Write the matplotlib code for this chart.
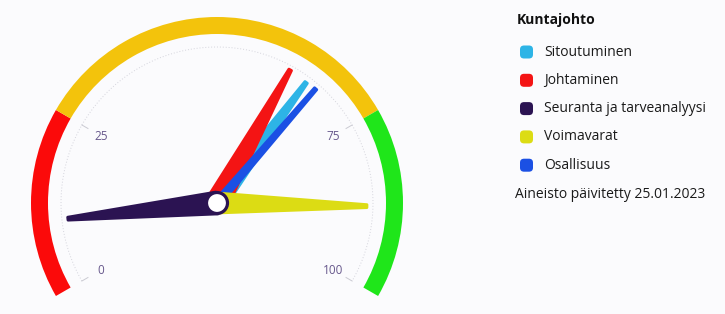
import numpy as np
import matplotlib.pyplot as plt
from matplotlib.patches import Wedge, Polygon, Circle, FancyBboxPatch

# gauge data
series = ["Sitoutuminen", "Johtaminen", "Seuranta ja tarveanalyysi", "Voimavarat", "Osallisuus"]
values = [65.2, 62, 10, 88, 67]
colors = ["#2db4e6", "#f41414", "#2b1352", "#dcdc14", "#1b50e4"]
band_edges = [0, 25, 75, 100]
band_colors = ["#fb0a0a", "#f3c30c", "#1fe61a"]
tick_values = [0, 25, 75, 100]
title = "Kuntajohto"
footnote = "Aineisto päivitetty 25.01.2023"

plt.rcParams['font.family'] = ['Open Sans', 'DejaVu Sans']

W, H = 725, 314
fig = plt.figure(figsize=(W / 100, H / 100), dpi=100)
fig.patch.set_facecolor("#fbfbfd")
ax = fig.add_axes([0, 0, 1, 1])
ax.set_xlim(0, W)
ax.set_ylim(0, H)
ax.axis("off")

cx, cy = 217, H - 203
start, span = 210.0, 240.0


def angle(v):
    return start - span * v / 100.0


def polar(r, v):
    a = np.radians(angle(v))
    return cx + r * np.cos(a), cy + r * np.sin(a)


# colour bands
for lo, hi, c in zip(band_edges[:-1], band_edges[1:], band_colors):
    ax.add_patch(Wedge((cx, cy), 186, angle(hi), angle(lo), width=17, facecolor=c, edgecolor="none"))

# thin scale circle, ticks and labels
vv = np.linspace(0, 100, 200)
px, py = polar(156, vv)
ax.plot(px, py, color="#d4d4dc", lw=0.7, ls=(0, (1, 2)))
for t in tick_values:
    x1, y1 = polar(149, t)
    x2, y2 = polar(156, t)
    ax.plot([x1, x2], [y1, y2], color="#cacad2", lw=0.7)
    lx, ly = polar(134, t)
    ax.text(lx, ly, str(t), ha="center", va="center", fontsize=8.5, color="#67588c")

# needles
half_w = {"Sitoutuminen": 9, "Johtaminen": 11, "Seuranta ja tarveanalyysi": 11,
          "Voimavarat": 10, "Osallisuus": 3.5}
length = {"Sitoutuminen": 150, "Johtaminen": 152, "Seuranta ja tarveanalyysi": 150,
          "Voimavarat": 150, "Osallisuus": 151}
order = ["Sitoutuminen", "Johtaminen", "Osallisuus", "Voimavarat", "Seuranta ja tarveanalyysi"]
for name in order:
    i = series.index(name)
    a = np.radians(angle(values[i]))
    d = np.array([np.cos(a), np.sin(a)])
    n = np.array([-d[1], d[0]])
    hw = half_w[name]
    tip = np.array([cx, cy]) + d * length[name]
    pts = [np.array([cx, cy]) + n * hw, np.array([cx, cy]) - n * hw,
           tip - n * 1.5, tip + n * 1.5]
    ax.add_patch(Polygon(pts, closed=True, facecolor=colors[i], edgecolor=colors[i],
                         lw=2, joinstyle="round"))

ax.add_patch(Circle((cx, cy), 10.5, facecolor="white", edgecolor="#2b1352", lw=2.3, zorder=5))

# legend
ax.text(517, H - 20, title, fontsize=10, fontweight="bold", color="#111111", va="center")
for k, (name, c) in enumerate(zip(series, colors)):
    y = H - (52 + 28.3 * k)
    ax.add_patch(FancyBboxPatch((520, y - 6.5), 13, 13, boxstyle="round,pad=0,rounding_size=4",
                                facecolor=c, edgecolor="none"))
    ax.text(544, y, name, fontsize=10, color="#1a1a1a", va="center")
ax.text(515, H - 195, footnote, fontsize=10, color="#1a1a1a", va="center")

fig.savefig("out.png", dpi=100, facecolor=fig.get_facecolor())
